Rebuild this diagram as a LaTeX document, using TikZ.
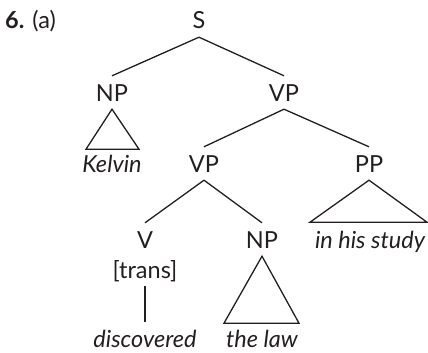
\documentclass[tikz,border=0pt]{standalone}
\usepackage{fontspec}
\setmainfont{Lato}
\definecolor{ink}{HTML}{231F20}
\begin{document}
\begin{tikzpicture}[x=1pt,y=-1pt,
  lab/.style={anchor=base,inner xsep=0pt,inner ysep=8pt,text height=17pt,text depth=0pt,
    font=\fontsize{23.5}{28}\selectfont,text=ink},
  leaf/.style={lab,font=\fontsize{23.5}{28}\selectfont\itshape},
  br/.style={draw=ink,line width=1.3pt,line join=miter}]
\useasboundingbox (0,0) rectangle (428,353);
\node[anchor=base west,inner sep=0pt,font=\fontsize{23.5}{28}\selectfont,text=ink] (num) at (5,29) {\textbf{6.} (a)};
\node[lab] (S) at (199,29) {S};
\node[lab] (NP) at (112,101) {NP};
\node[lab] (VP) at (284,101) {VP};
\node[leaf] (kelvin) at (112,172) {Kelvin};
\node[lab] (VPb) at (204,172) {VP};
\node[lab] (PP) at (369,172) {PP};
\node[lab] (V) at (145,248) {V};
\node[lab] (trans) at (145,278) {[trans]};
\node[lab] (NPb) at (262,248) {NP};
\node[leaf] (study) at (370,248) {in his study};
\node[leaf] (disc) at (145,347) {discovered};
\node[leaf] (law) at (262,347) {the law};
\draw[br] (S.south) -- (NP.north);
\draw[br] (S.south) -- (VP.north);
\draw[br] (VP.south) -- (VPb.north);
\draw[br] (VP.south) -- (PP.north);
\draw[br] (VPb.south) -- (V.north);
\draw[br] (VPb.south) -- (NPb.north);
\draw[br] (trans.south) -- (disc.north);
\draw[br] (NP.south) -- ++(-26,40) -- ++(53,0) -- cycle;
\draw[br] (PP.south) -- ++(-59,42) -- ++(117,0) -- cycle;
\draw[br] (NPb.south) -- ++(-38,67) -- ++(75,0) -- cycle;
\end{tikzpicture}
\end{document}
